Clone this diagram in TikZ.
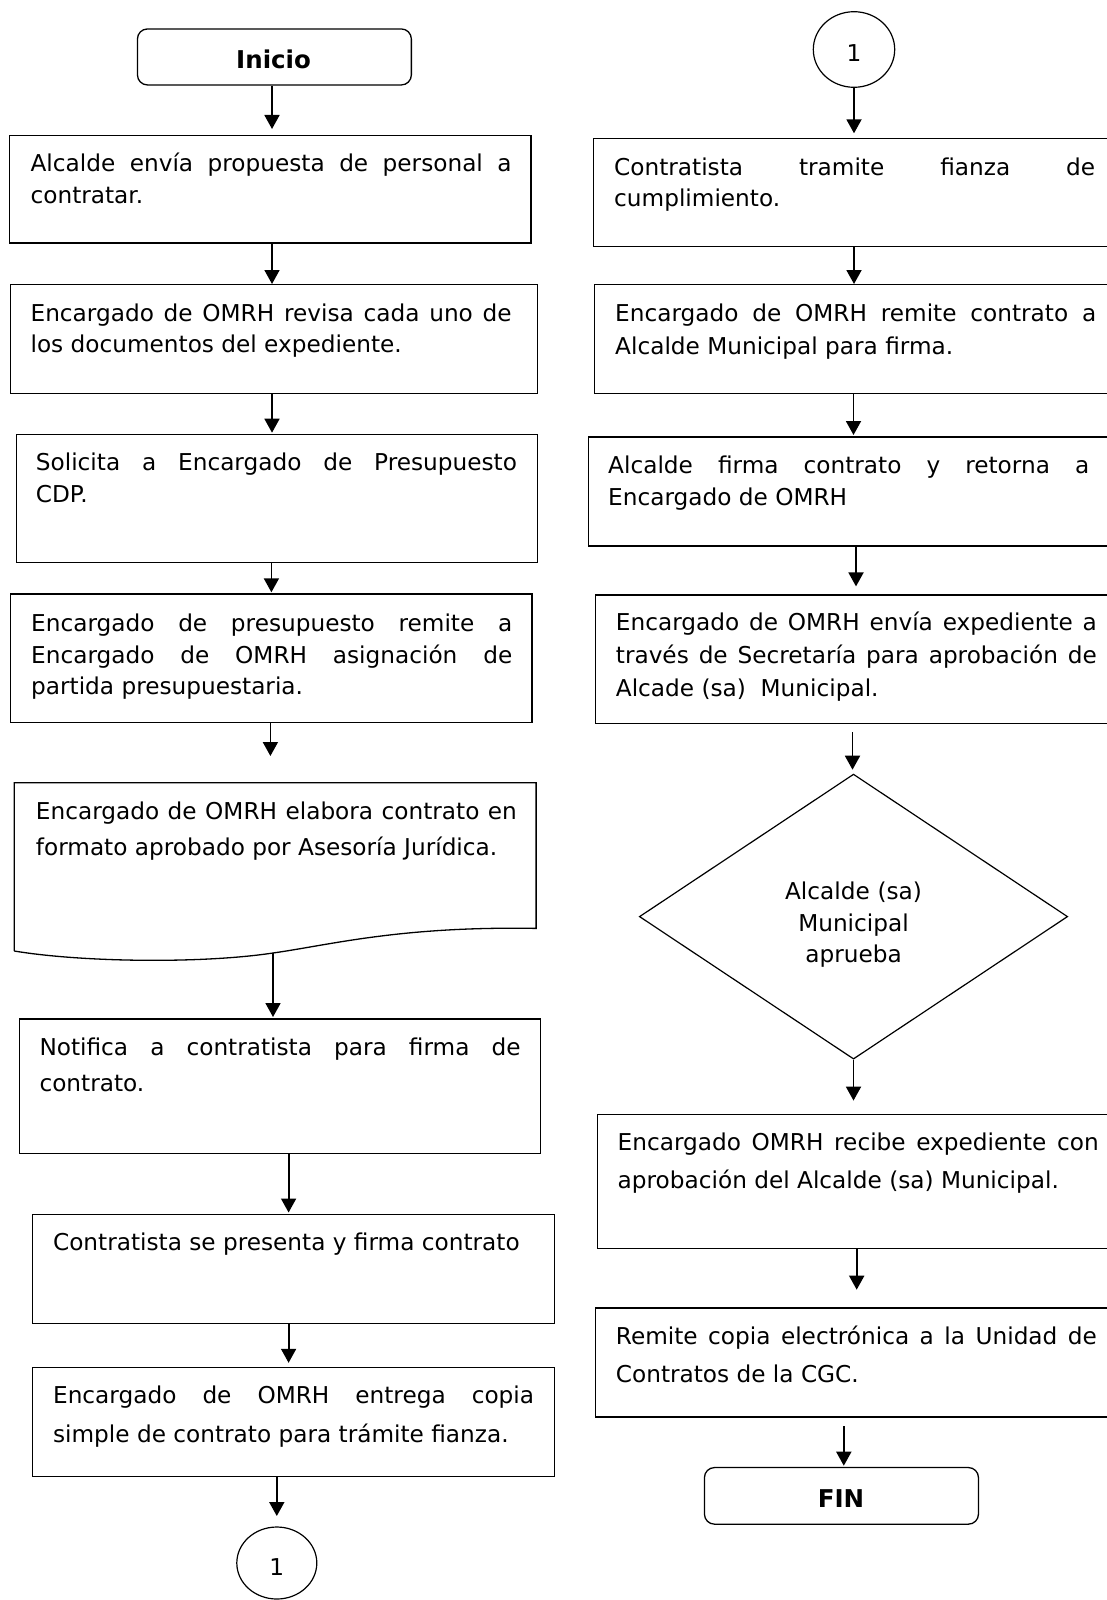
\documentclass[tikz,border=0pt]{standalone}
\usepackage{fontspec}
\setmainfont{DejaVu Sans}
\usetikzlibrary{arrows.meta,shapes.geometric}

% justified lines with forced breaks: accept loose lines, never hyphenate
\tolerance=10000
\pretolerance=10000
\hyphenpenalty=10000
\hbadness=10000

\begin{document}
\begin{tikzpicture}[x=1pt,y=-1pt,
  box/.style={draw, line width=1.3pt, inner sep=0pt, anchor=north west},
  term/.style={box, rounded corners=10pt},
  conn/.style={draw, line width=1.2pt, inner sep=0pt, ellipse, text height=24pt, text depth=0pt,
    font=\fontsize{23.2}{28}\selectfont},
  txt/.style={inner sep=0pt, anchor=base west, text width=481pt, align=justify,
    font=\fontsize{23.2}{#1}\selectfont},
  txt/.default=31.6,
  ctxt/.style={inner sep=0pt, anchor=base, text width=300pt, align=center,
    font=\fontsize{23.2}{31.6}\selectfont},
  btxt/.style={inner sep=0pt, anchor=base, font=\fontsize{24.5}{30}\selectfont\bfseries},
  arr/.style={line width=1.8pt, -{Triangle[length=14pt,width=15pt]}},
]
\useasboundingbox (0,0) rectangle (1106,1600);

% ---------------- left column ----------------
\node[term, minimum width=273.9pt, minimum height=56pt] (ini) at (136.8,28.3) {};
\node[btxt] (inil) at (273.6,68.3) {Inicio};

\node[box, minimum width=521.5pt, minimum height=107.3pt] (b1) at (8.9,135) {};
\node[txt] (t1) at (30.4,171.7) {Alcalde envía propuesta de personal a\linebreak contratar.};

\node[box, minimum width=527.2pt, minimum height=108.7pt] (b2) at (9.6,284) {};
\node[txt=31] (t2) at (30.4,321.7) {Encargado de OMRH revisa cada uno de\linebreak los documentos del expediente.};

\node[box, minimum width=520.8pt, minimum height=128.2pt] (b3) at (16,433.7) {};
\node[txt=31.8] (t3) at (35.7,470.8) {Solicita a Encargado de Presupuesto\linebreak CDP.};

\node[box, minimum width=521.8pt, minimum height=128.2pt] (b4) at (9.6,593.3) {};
\node[txt] (t4) at (31,631.5) {Encargado de presupuesto remite a\linebreak Encargado de OMRH asignación de\linebreak partida presupuestaria.};

% document shape with a wavy lower edge
\node[inner sep=0pt, anchor=north west, minimum width=521.4pt, minimum height=145.3pt] (b5) at (14.3,782.7) {};
\draw[line width=1.3pt] (b5.south west |- 0,951) -- (b5.north west) -- (b5.north east) -- (b5.south east)
  .. controls (400,926) and (330,945) .. (273,953)
  .. controls (200,964) and (80,962) .. (14.3,951);
\coordinate (b5w) at (273,953);
\node[txt=36.4] (t5) at (35.7,819) {Encargado de OMRH elabora contrato en\linebreak formato aprobado por Asesoría Jurídica.};

\node[box, minimum width=521.4pt, minimum height=134.6pt] (b6) at (18.6,1018.4) {};
\node[txt=36.3] (t6) at (39.3,1055.5) {Notifica a contratista para firma de\linebreak contrato.};

\node[box, minimum width=521.6pt, minimum height=109.1pt] (b7) at (32,1213.5) {};
\node[txt] (t7) at (52.9,1250.7) {Contratista se presenta y firma contrato};

\node[box, minimum width=521.6pt, minimum height=109.1pt] (b8) at (32,1366.6) {};
\node[txt=38.3] (t8) at (52.9,1403.7) {Encargado de OMRH entrega copia\linebreak simple de contrato para trámite fianza.};

\node[conn, minimum width=80pt, minimum height=72pt] (c1) at (276.8,1563) {1};

% ---------------- right column ----------------
\node[conn, minimum width=81.4pt, minimum height=75.6pt] (c2) at (854,49.5) {1};

\node[box, minimum width=519pt, minimum height=108.3pt] (r1) at (593,137.7) {};
\node[txt=31] (s1) at (614,175.7) {Contratista tramite fianza de\linebreak cumplimiento.};

\node[box, minimum width=518.2pt, minimum height=108.7pt] (r2) at (593.8,284) {};
\node[txt=32.3] (s2) at (615,321.7) {Encargado de OMRH remite contrato a\linebreak Alcalde Municipal para firma.};

\node[box, minimum width=524.1pt, minimum height=109pt] (r3) at (587.9,436.4) {};
\node[txt=31.3] (s3) at (608,473.9) {Alcalde firma contrato y retorna a\linebreak Encargado de OMRH};

\node[box, minimum width=517.2pt, minimum height=128.2pt] (r4) at (594.8,594.4) {};
\node[txt=33] (s4) at (615.7,630.8) {Encargado de OMRH envía expediente a\linebreak través de Secretaría para aprobación de\linebreak Alcade (sa)\ \ Municipal.};

\node[draw, line width=1.2pt, diamond, inner sep=0pt, minimum width=428.3pt, minimum height=285pt] (d) at (853.5,916.6) {};
\node[ctxt] (dt) at (853.5,899.4) {Alcalde (sa)\\Municipal\\aprueba};

\node[box, minimum width=515.4pt, minimum height=134.3pt] (r5) at (596.6,1113.7) {};
\node[txt=38.3] (s5) at (617.5,1150.4) {Encargado OMRH recibe expediente con\linebreak aprobación del Alcalde (sa) Municipal.};

\node[box, minimum width=517.2pt, minimum height=109.1pt] (r6) at (594.8,1307.3) {};
\node[txt=37.6] (s6) at (615.7,1344.4) {Remite copia electrónica a la Unidad de\linebreak Contratos de la CGC.};

\node[term, minimum width=274pt, minimum height=56.6pt] (fin) at (703.8,1466.9) {};
\node[btxt] (finl) at (841,1507) {FIN};

% ---------------- connectors ----------------
\draw[arr, shorten >=6pt] (ini.south -| 272,0) -- (b1.north -| 272,0);
\draw[arr] (b1.south -| 272,0) -- (b2.north -| 272,0);
\draw[arr, shorten >=1pt] (b2.south -| 272,0) -- (b3.north -| 272,0);
\draw[arr, shorten >=1pt] (b3.south -| 271.4,0) -- (b4.north -| 271.4,0);
\draw[arr, shorten >=26.7pt] (b4.south -| 270.4,0) -- (b5.north -| 270.4,0);
\draw[arr, shorten >=1.4pt] (b5w) -- (b6.north -| b5w);
\draw[arr, shorten >=1pt] (b6.south -| 288.6,0) -- (b7.north -| 288.6,0);
\draw[arr, shorten >=3.8pt] (b7.south -| 288.6,0) -- (b8.north -| 288.6,0);
\draw[arr, shorten >=10.4pt] (b8.south -| 276.8,0) -- (c1.north);

\draw[arr, shorten >=4.4pt] (c2.south) -- (r1.north -| c2.south);
\draw[arr] (r1.south -| 854,0) -- (r2.north -| 854,0);
\draw[arr, shorten >=1.4pt] (r2.south -| 853.5,0) -- (r3.north -| 853.5,0);
\draw[arr, shorten >=8pt] (r3.south -| 856,0) -- (r4.north -| 856,0);
\draw[arr, shorten <=8.4pt, shorten >=3.8pt] (r4.south -| 852.5,0) -- (d.north -| 852.5,0);
\draw[arr, shorten >=13.1pt] (d.south) -- (r5.north -| d.south);
\draw[arr, shorten >=17.6pt] (r5.south -| 856.7,0) -- (r6.north -| 856.7,0);
\draw[arr, shorten <=8.4pt, shorten >=1.2pt] (r6.south -| 843.8,0) -- (fin.north -| 843.8,0);
\end{tikzpicture}
\end{document}
